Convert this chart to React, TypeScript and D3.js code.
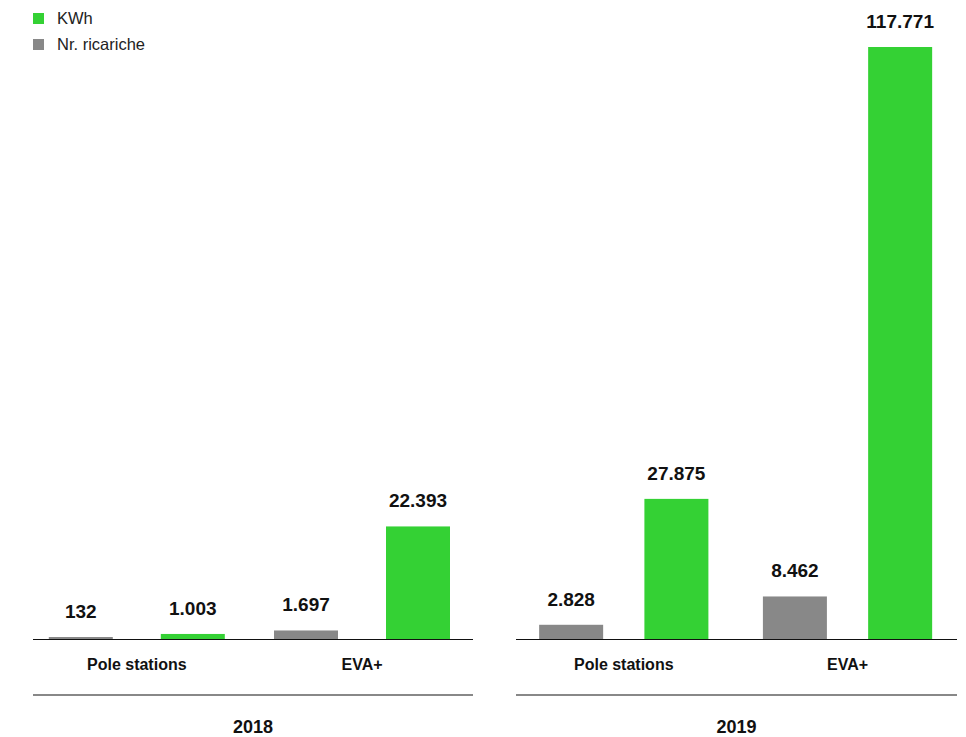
import React from 'react';
import * as d3 from 'd3';

const years = ['2018', '2019'];
const categories = ['Pole stations', 'EVA+'];
const seriesNames = ['Nr. ricariche', 'KWh'];
const ricariche2018 = [132, 1697];
const kwh2018 = [1003, 22393];
const ricariche2019 = [2828, 8462];
const kwh2019 = [27875, 117771];

const legendItems = ['KWh', 'Nr. ricariche'];
const colors: Record<string, string> = { 'KWh': '#34d134', 'Nr. ricariche': '#888888' };

const W = 966;
const H = 737;
const FONT = '"Liberation Sans", Arial, sans-serif';

const itFormat = d3.formatLocale({ decimal: ',', thousands: '.', grouping: [3], currency: ['€', ''] }).format(',d');

// panel layout (axis line extent, group band range, spacing between paired bars)
const panels = [
  { x0: 33, x1: 473, g0: 24.2, g1: 474.6, pair: 112 },
  { x0: 516, x1: 957, g0: 511.9, g1: 959.4, pair: 105.25 },
];
const BAR_W = 64;

export default function App() {
  const data: Record<string, Record<string, number[]>> = {
    '2018': { 'Nr. ricariche': ricariche2018, 'KWh': kwh2018 },
    '2019': { 'Nr. ricariche': ricariche2019, 'KWh': kwh2019 },
  };
  const maxV = d3.max([...ricariche2018, ...kwh2018, ...ricariche2019, ...kwh2019]) as number;
  const baseY = 639;
  const y = d3.scaleLinear().domain([0, maxV]).range([baseY, 47]);

  return (
    <svg width={W} height={H} style={{ position: 'absolute', left: 0, top: 0, background: '#fff' }} fontFamily={FONT}>
      {legendItems.map((s, i) => (
        <g key={s} transform={`translate(33, ${13 + i * 26})`}>
          <rect x={0} y={0} width={11} height={11} fill={colors[s]} />
          <text x={24} y={11} fontSize={16.5} fill="#222">{s}</text>
        </g>
      ))}
      {years.map((yr, yi) => {
        const p = panels[yi];
        const groupX = d3.scaleBand<string>().domain(categories).range([p.g0, p.g1]);
        const inner = d3
          .scaleBand<string>()
          .domain(seriesNames)
          .range([-p.pair / 2 - BAR_W / 2, p.pair / 2 + BAR_W / 2])
          .paddingInner(1 - BAR_W / p.pair)
          .paddingOuter(0);
        return (
          <g key={yr}>
            {categories.map((cat, ci) => {
              const gc = (groupX(cat) as number) + groupX.bandwidth() / 2;
              return (
                <g key={cat}>
                  {seriesNames.map((s) => {
                    const v = data[yr][s][ci];
                    const bx = gc + (inner(s) as number);
                    const top = Math.min(y(v), baseY - 2);
                    return (
                      <g key={s}>
                        <rect x={bx} y={top} width={inner.bandwidth()} height={baseY - top} fill={colors[s]} />
                        <text x={bx + inner.bandwidth() / 2} y={top - 19} textAnchor="middle" fontSize={19} fontWeight="bold" fill="#111">
                          {itFormat(v)}
                        </text>
                      </g>
                    );
                  })}
                  <text x={gc} y={670} textAnchor="middle" fontSize={16} fontWeight="bold" fill="#111">
                    {cat}
                  </text>
                </g>
              );
            })}
            <line x1={p.x0} x2={p.x1} y1={baseY + 0.5} y2={baseY + 0.5} stroke="#111" strokeWidth={1} />
            <line x1={p.x0} x2={p.x1} y1={695} y2={695} stroke="#888" strokeWidth={2} />
            <text x={(p.x0 + p.x1) / 2} y={733} textAnchor="middle" fontSize={18} fontWeight="bold" fill="#111">
              {yr}
            </text>
          </g>
        );
      })}
    </svg>
  );
}
